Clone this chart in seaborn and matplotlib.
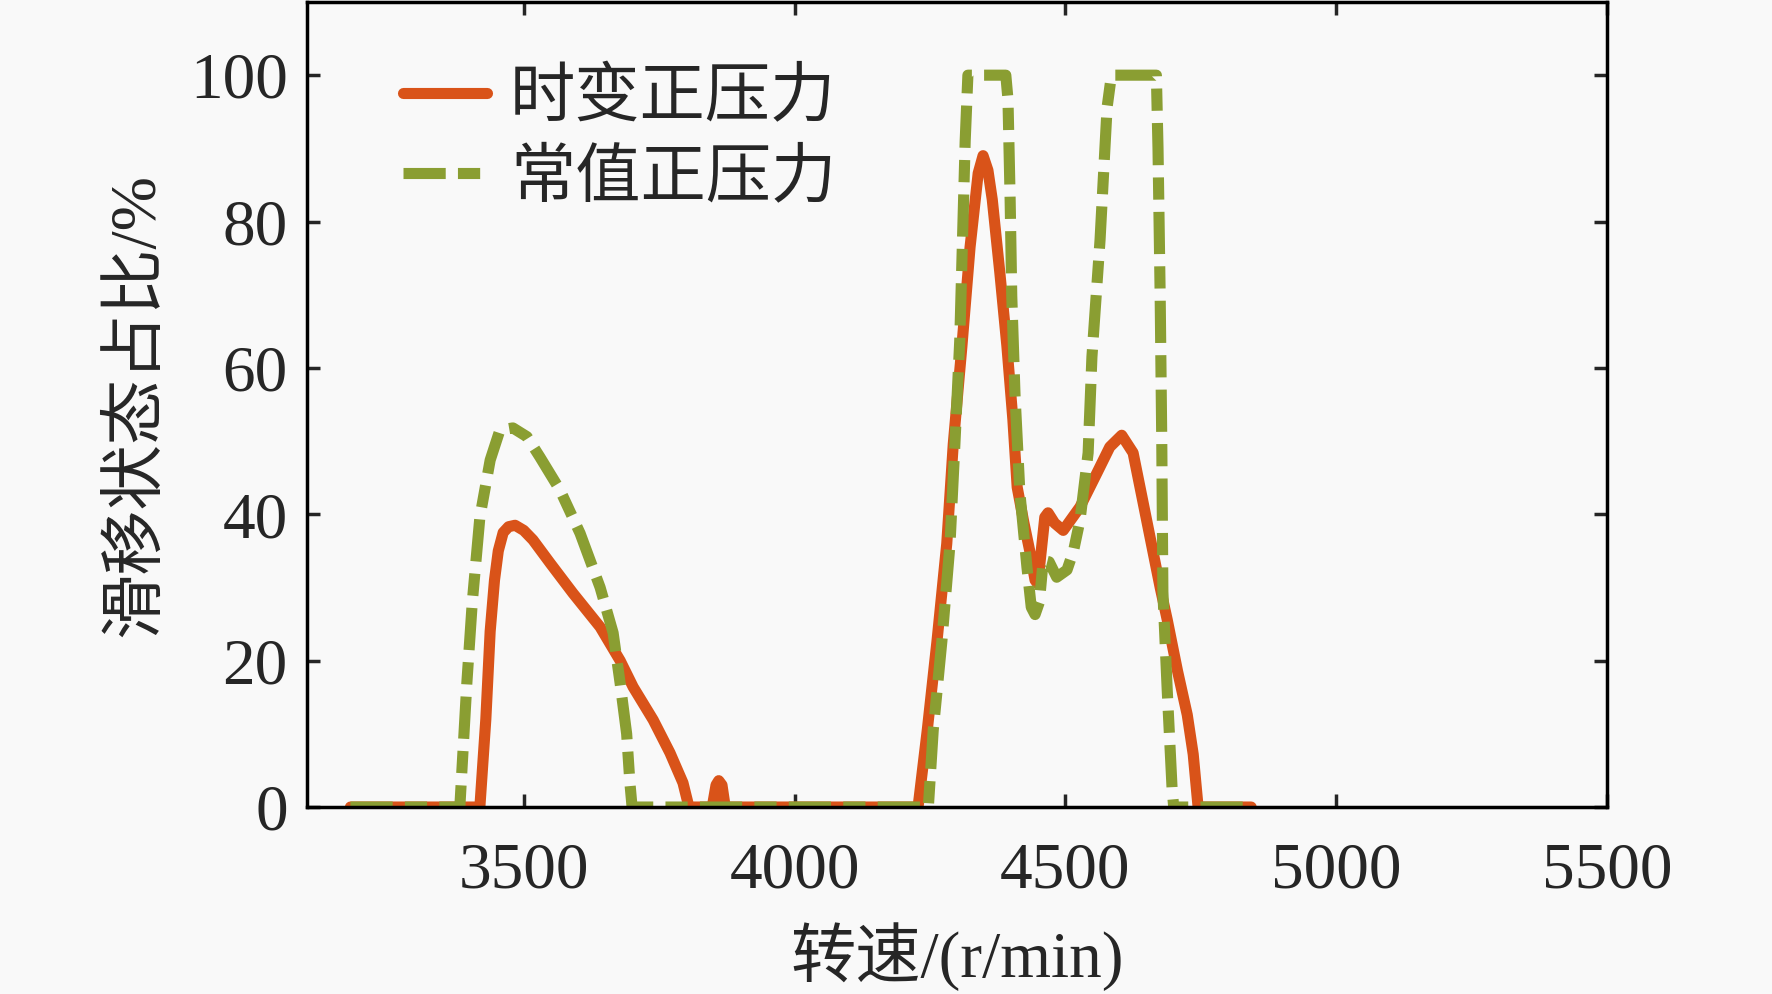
import numpy as np
import pandas as pd
import seaborn as sns
import matplotlib.pyplot as plt

# speed (r/min) and slip-state share (%) for the two pressure cases
speed_tv = [3180, 3419, 3430, 3438, 3446, 3453, 3462, 3472, 3484, 3500, 3517, 3549,
            3591, 3641, 3678, 3702, 3739, 3770, 3794, 3805, 3848, 3855, 3860, 3866,
            3872, 4228, 4245, 4263, 4281, 4293, 4309, 4324, 4339, 4348, 4357, 4365,
            4379, 4392, 4403, 4411, 4423, 4435, 4444, 4449, 4462, 4468, 4480, 4496,
            4527, 4558, 4582, 4604, 4625, 4650, 4675, 4688, 4707, 4725, 4736, 4745,
            4843]
ratio_tv = [0, 0, 12, 24, 31, 35, 37.5, 38.3, 38.5, 37.8, 36.5, 33.3,
            29.2, 24.6, 20, 16.4, 11.9, 7.4, 3.3, 0, 0, 3, 3.6, 3,
            0, 0, 10.5, 22.7, 36, 49.6, 63, 76.5, 86.6, 89, 87, 83,
            73, 63, 53, 43.7, 39, 34.7, 31, 30.5, 39.6, 40.2, 38.8, 37.8,
            41, 45.6, 49.2, 50.8, 48.4, 39.2, 30, 25.6, 18.6, 12.6, 7.2, 0,
            0]

speed_cst = [3180, 3382, 3395, 3405, 3419, 3438, 3456, 3480, 3506, 3530, 3567, 3604,
             3641, 3665, 3678, 3690, 3696, 3700, 4247, 4256, 4272, 4287, 4296, 4305,
             4315, 4320, 4390, 4394, 4398, 4401, 4407, 4416, 4429, 4437, 4444, 4452,
             4459, 4470, 4484, 4503, 4515, 4527, 4542, 4549, 4564, 4577, 4585, 4668,
             4671, 4675, 4678, 4680, 4688, 4697, 4700, 4843]
ratio_cst = [0, 0, 17, 28, 39.6, 47.4, 51.5, 51.8, 50.6, 47.8, 43.3, 37.4,
             30, 23.8, 16.9, 10, 3.3, 0, 0, 10.5, 22.7, 36, 49.6, 63.8,
             91, 100, 100, 96.7, 83, 69.8, 56.3, 42.9, 32.8, 27.3, 26.3, 28,
             33.7, 33.5, 31.4, 32.4, 35, 39.2, 48.4, 61.5, 77.5, 95.6, 100, 100,
             90, 69.8, 49.6, 29.4, 16, 2.5, 0, 0]

labels = ['时变正压力', '常值正压力']
xticks = [3500, 4000, 4500, 5000, 5500]
yticks = [0, 20, 40, 60, 80, 100]

sns.set_style('ticks')
plt.rcParams['font.family'] = ['Liberation Serif', 'Noto Sans CJK SC']
plt.rcParams['font.size'] = 47

df_tv = pd.DataFrame({'speed': speed_tv, 'ratio': ratio_tv})
df_cst = pd.DataFrame({'speed': speed_cst, 'ratio': ratio_cst})

fig = plt.figure(figsize=(17.72, 9.94), dpi=100, facecolor='#f9f9f9')
ax = fig.add_axes([0.1733, 0.1881, 0.7336, 0.8099])
ax.set_facecolor('#f9f9f9')

sns.lineplot(data=df_tv, x='speed', y='ratio', ax=ax, color='#D95319', lw=8,
             sort=False, estimator=None, label=labels[0])
sns.lineplot(data=df_cst, x='speed', y='ratio', ax=ax, color='#8A9E32', lw=8,
             sort=False, estimator=None, label=labels[1],
             linestyle=(0, (3.8, 1.1, 2.0, 1.1)))

ax.set_xlim(3100, 5500)
ax.set_ylim(0, 110)
ax.set_xticks(xticks)
ax.set_yticks(yticks)
ax.tick_params(direction='in', length=9.5, width=2.5, top=True, right=True,
               labelsize=47)
ax.tick_params(axis='x', pad=25)
ax.tick_params(axis='y', pad=14)
for sp in ax.spines.values():
    sp.set_linewidth(2.5)
    sp.set_color('black')

ax.set_xlabel('转速/(r/min)', fontsize=47, labelpad=15)
ax.set_ylabel('滑移状态占比/%', fontsize=47, labelpad=16)

leg = ax.legend(loc='upper left', bbox_to_anchor=(403 / 1772, 1 - 69 / 994),
                bbox_transform=fig.transFigure, frameon=False, fontsize=47,
                handlelength=1.28, handletextpad=0.36, labelspacing=0.29,
                borderpad=0, borderaxespad=0)

fig.savefig('out.png', dpi=100, facecolor=fig.get_facecolor())
